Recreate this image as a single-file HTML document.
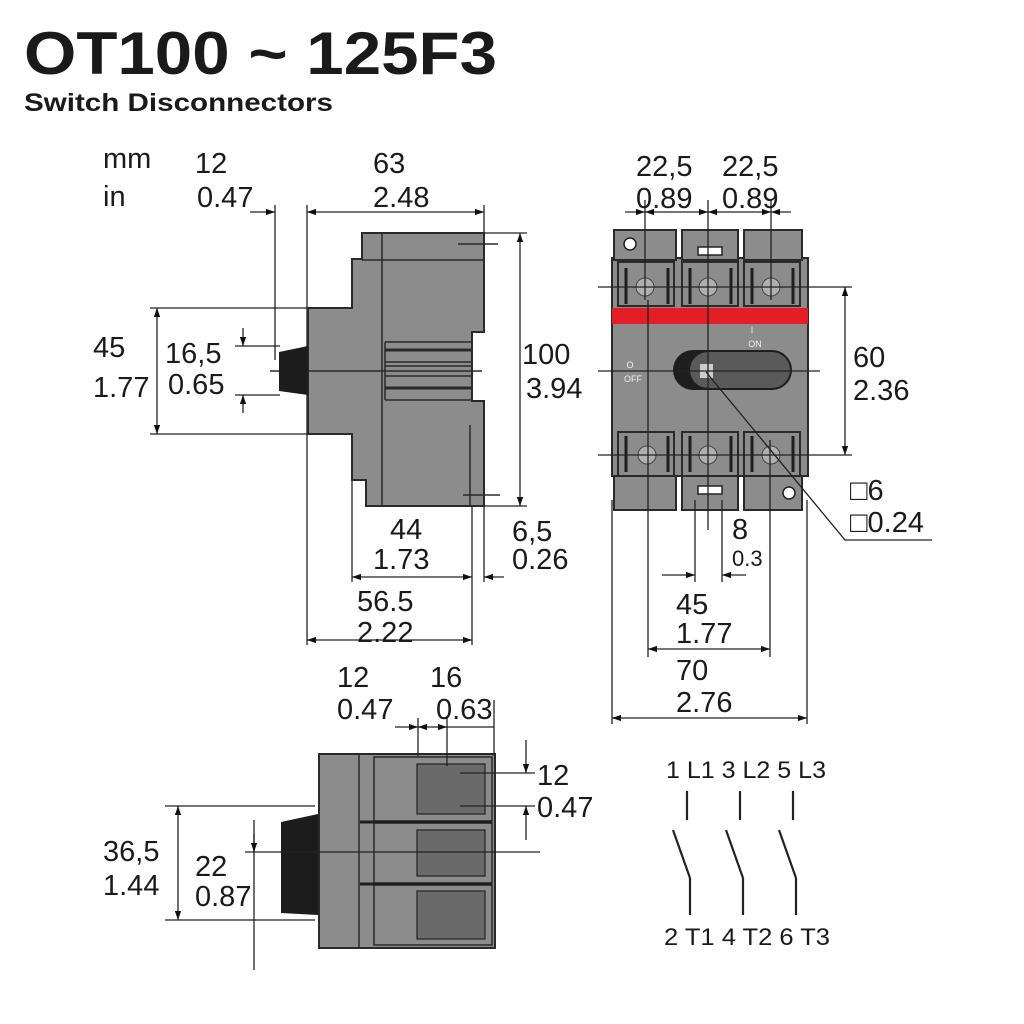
<!DOCTYPE html>
<html><head><meta charset="utf-8"><style>
html,body{margin:0;padding:0;background:#fff;}
svg{display:block;}
text{font-family:"Liberation Sans",sans-serif;fill:#1a1a1a;}
.d{font-size:29px;}
</style></head><body>
<svg width="1024" height="1024" viewBox="0 0 1024 1024" xmlns="http://www.w3.org/2000/svg">
<defs>
<marker id="a" viewBox="0 0 10 10" refX="10" refY="5" markerWidth="18" markerHeight="9" orient="auto-start-reverse" markerUnits="userSpaceOnUse"><path d="M0,1.5 L10,5 L0,8.5 z" fill="#111"/></marker>
</defs>
<text x="24" y="74" font-size="60" font-weight="bold" textLength="473" lengthAdjust="spacingAndGlyphs">OT100 ~ 125F3</text>
<text x="24" y="111" font-size="25" font-weight="bold" textLength="309" lengthAdjust="spacingAndGlyphs">Switch Disconnectors</text>

<g stroke="#222" stroke-width="1.3" fill="none">
<line x1="275" y1="205" x2="275" y2="360"/>
<line x1="307" y1="205" x2="307" y2="645"/>
<line x1="484" y1="205" x2="484" y2="233"/>
<line x1="250" y1="212" x2="275" y2="212" marker-end="url(#a)"/>
<line x1="307" y1="212" x2="484" y2="212" marker-start="url(#a)" marker-end="url(#a)"/>
<line x1="484" y1="233" x2="527" y2="233"/>
<line x1="484" y1="506" x2="527" y2="506"/>
<line x1="520" y1="233" x2="520" y2="506" marker-start="url(#a)" marker-end="url(#a)"/>
<line x1="150" y1="308" x2="308" y2="308"/>
<line x1="150" y1="434" x2="308" y2="434"/>
<line x1="157" y1="308" x2="157" y2="434" marker-start="url(#a)" marker-end="url(#a)"/>
<line x1="235" y1="346" x2="280" y2="346"/>
<line x1="235" y1="395" x2="280" y2="395"/>
<line x1="243" y1="328" x2="243" y2="346" marker-end="url(#a)"/>
<line x1="243" y1="413" x2="243" y2="395" marker-end="url(#a)"/>
<line x1="352" y1="480" x2="352" y2="582"/>
<line x1="472" y1="420" x2="472" y2="645"/>
<line x1="484" y1="506" x2="484" y2="582"/>
<line x1="352" y1="577" x2="472" y2="577" marker-start="url(#a)" marker-end="url(#a)"/>
<line x1="504" y1="577" x2="484" y2="577" marker-end="url(#a)"/>
<line x1="307" y1="640" x2="472" y2="640" marker-start="url(#a)" marker-end="url(#a)"/>
</g>

<path d="M362,233 H484 V332 H472 V401 H484 V506 H366 V480 H352 V434 H308 V308 H352 V259 H362 Z" fill="#8c8c8c" stroke="#2a2a2a" stroke-width="2"/>
<g stroke="#2a2a2a" stroke-width="1.5" fill="none">
<line x1="382" y1="233" x2="382" y2="506"/>
<line x1="362" y1="260" x2="484" y2="260"/>
<line x1="385" y1="342" x2="472" y2="342"/>
<line x1="385" y1="350" x2="472" y2="350" stroke-width="3"/>
<line x1="385" y1="362" x2="472" y2="362"/>
<line x1="385" y1="366" x2="472" y2="366"/>
<line x1="385" y1="376" x2="472" y2="376"/>
<line x1="385" y1="388" x2="472" y2="388" stroke-width="3"/>
<line x1="385" y1="400" x2="472" y2="400"/>
<line x1="385" y1="342" x2="385" y2="400"/>
<line x1="270" y1="371" x2="482" y2="371"/>
<line x1="458" y1="244" x2="498" y2="244"/>
<line x1="463" y1="495" x2="500" y2="495"/>
<line x1="470" y1="425" x2="470" y2="506"/>
</g>
<path d="M279,352 L308,346 V395 L279,391 Z" fill="#1c1c1c"/>

<rect x="612" y="258" width="196" height="218" fill="#8c8c8c" stroke="#2a2a2a" stroke-width="2"/>
<g fill="#8c8c8c" stroke="#2a2a2a" stroke-width="2">
<rect x="614" y="230" width="62" height="30"/><rect x="682" y="230" width="56" height="30"/><rect x="744" y="230" width="58" height="30"/>
<rect x="614" y="476" width="62" height="34"/><rect x="682" y="476" width="56" height="34"/><rect x="744" y="476" width="58" height="34"/>
<rect x="618" y="262" width="56" height="44"/><rect x="682" y="262" width="56" height="44"/><rect x="744" y="262" width="56" height="44"/>
<rect x="618" y="432" width="56" height="44"/><rect x="682" y="432" width="56" height="44"/><rect x="744" y="432" width="56" height="44"/>
</g>
<g stroke="#1e1e1e" stroke-width="3"><line x1="626" y1="268" x2="626" y2="304"/><line x1="668" y1="268" x2="668" y2="304"/><line x1="690" y1="268" x2="690" y2="304"/><line x1="731" y1="268" x2="731" y2="304"/><line x1="752" y1="268" x2="752" y2="304"/><line x1="793" y1="268" x2="793" y2="304"/>
<line x1="626" y1="436" x2="626" y2="472"/><line x1="668" y1="436" x2="668" y2="472"/><line x1="690" y1="436" x2="690" y2="472"/><line x1="731" y1="436" x2="731" y2="472"/><line x1="752" y1="436" x2="752" y2="472"/><line x1="793" y1="436" x2="793" y2="472"/></g>
<rect x="612" y="308" width="196" height="16" fill="#e31e24"/>
<g fill="#fff" stroke="#222" stroke-width="1.5">
<circle cx="630" cy="244" r="6"/><circle cx="789" cy="493" r="6"/>
<rect x="698" y="247" width="24" height="8"/><rect x="698" y="486" width="24" height="8"/>
</g>
<g fill="#b0b0b0" stroke="#444" stroke-width="1"><circle cx="645" cy="287" r="9"/><circle cx="708" cy="287" r="9"/><circle cx="771" cy="287" r="9"/><circle cx="647" cy="455" r="9"/><circle cx="708" cy="455" r="9"/><circle cx="771" cy="455" r="9"/></g>
<rect x="673" y="350" width="119" height="40" rx="20" fill="#1e1e1e"/>
<rect x="690" y="352" width="100" height="36" rx="18" fill="#5a5a5a"/>
<rect x="700" y="364" width="13" height="14" fill="#ccc"/>
<text x="752" y="333" font-size="9" style="fill:#eee" text-anchor="middle">I</text>
<text x="755" y="347" font-size="9" style="fill:#eee" text-anchor="middle">ON</text>
<text x="630" y="368" font-size="9" style="fill:#eee" text-anchor="middle">O</text>
<text x="633" y="382" font-size="9" style="fill:#eee" text-anchor="middle">OFF</text>
<g stroke="#222" stroke-width="1.3" fill="none">
<line x1="645" y1="200" x2="645" y2="300"/><line x1="708" y1="200" x2="708" y2="530"/><line x1="771" y1="200" x2="771" y2="300"/>
<line x1="648" y1="300" x2="648" y2="657"/><line x1="770" y1="440" x2="770" y2="657"/>
<line x1="612" y1="500" x2="612" y2="724"/><line x1="807" y1="500" x2="807" y2="724"/>
<line x1="695" y1="500" x2="695" y2="582"/><line x1="722" y1="500" x2="722" y2="582"/>
<line x1="625" y1="212" x2="645" y2="212" marker-end="url(#a)"/>
<line x1="645" y1="212" x2="708" y2="212" marker-start="url(#a)" marker-end="url(#a)"/>
<line x1="708" y1="212" x2="771" y2="212" marker-start="url(#a)" marker-end="url(#a)"/>
<line x1="791" y1="212" x2="771" y2="212" marker-end="url(#a)"/>
<line x1="598" y1="287" x2="852" y2="287"/><line x1="598" y1="455" x2="852" y2="455"/>
<line x1="598" y1="371" x2="820" y2="371"/>
<line x1="845" y1="287" x2="845" y2="455" marker-start="url(#a)" marker-end="url(#a)"/>
<line x1="662" y1="575" x2="695" y2="575" marker-end="url(#a)"/>
<line x1="746" y1="575" x2="722" y2="575" marker-end="url(#a)"/>
<line x1="648" y1="649" x2="770" y2="649" marker-start="url(#a)" marker-end="url(#a)"/>
<line x1="612" y1="718" x2="807" y2="718" marker-start="url(#a)" marker-end="url(#a)"/>
<polyline points="706,372 845,540 932,540"/>
</g>

<rect x="319" y="754" width="176" height="194" fill="#8c8c8c" stroke="#2a2a2a" stroke-width="2"/>
<line x1="359" y1="754" x2="359" y2="948" stroke="#2a2a2a" stroke-width="1.5"/>
<g fill="#8c8c8c" stroke="#2a2a2a" stroke-width="1.5">
<rect x="374" y="757" width="118" height="64"/><rect x="374" y="823" width="118" height="60"/><rect x="374" y="885" width="118" height="60"/>
</g>
<g stroke="#1e1e1e" stroke-width="3"><line x1="360" y1="822" x2="492" y2="822"/><line x1="360" y1="884" x2="492" y2="884"/></g>
<g fill="#6a6a6a" stroke="#2a2a2a" stroke-width="1.3">
<rect x="417" y="764" width="68" height="50"/><rect x="417" y="830" width="68" height="46"/><rect x="417" y="891" width="68" height="48"/>
</g>
<path d="M281,822 L318,814 V915 L281,913 Z" fill="#1c1c1c"/>
<g stroke="#222" stroke-width="1.3" fill="none">
<line x1="418" y1="718" x2="418" y2="756"/><line x1="447" y1="718" x2="447" y2="766"/><line x1="494" y1="700" x2="494" y2="756"/>
<line x1="395" y1="727" x2="418" y2="727" marker-end="url(#a)"/>
<line x1="418" y1="727" x2="447" y2="727" marker-start="url(#a)" marker-end="url(#a)"/>
<line x1="447" y1="727" x2="494" y2="727"/>
<line x1="460" y1="773" x2="535" y2="773"/><line x1="460" y1="806" x2="535" y2="806"/>
<line x1="526" y1="740" x2="526" y2="773" marker-end="url(#a)"/>
<line x1="526" y1="840" x2="526" y2="806" marker-end="url(#a)"/>
<line x1="165" y1="806" x2="315" y2="806"/><line x1="165" y1="920" x2="315" y2="920"/>
<line x1="178" y1="806" x2="178" y2="920" marker-start="url(#a)" marker-end="url(#a)"/>
<line x1="245" y1="852" x2="540" y2="852"/>
<line x1="254" y1="820" x2="254" y2="970"/>
<line x1="254" y1="834" x2="254" y2="852" marker-end="url(#a)"/>
</g>

<g stroke="#222" stroke-width="2.2" fill="none">
<line x1="687" y1="791" x2="687" y2="820"/><line x1="740" y1="791" x2="740" y2="820"/><line x1="793" y1="791" x2="793" y2="820"/>
<line x1="673" y1="830" x2="690" y2="878"/><line x1="726" y1="830" x2="743" y2="878"/><line x1="779" y1="830" x2="796" y2="878"/>
<line x1="690" y1="878" x2="690" y2="915"/><line x1="743" y1="878" x2="743" y2="915"/><line x1="796" y1="878" x2="796" y2="915"/>
</g>

<g>
<text x="103" y="168" class="d">mm</text><text x="103" y="206" class="d">in</text>
<text x="195" y="173" class="d">12</text><text x="197" y="207" class="d">0.47</text>
<text x="373" y="173" class="d">63</text><text x="373" y="207" class="d">2.48</text>
<text x="93" y="357" class="d">45</text><text x="93" y="397" class="d">1.77</text>
<text x="165" y="363" class="d">16,5</text><text x="168" y="394" class="d">0.65</text>
<text x="522" y="364" class="d">100</text><text x="526" y="398" class="d">3.94</text>
<text x="390" y="539" class="d">44</text><text x="373" y="569" class="d">1.73</text>
<text x="512" y="541" class="d">6,5</text><text x="512" y="569" class="d">0.26</text>
<text x="357" y="611" class="d">56.5</text><text x="357" y="642" class="d">2.22</text>
<text x="636" y="176" class="d">22,5</text><text x="636" y="208" class="d">0.89</text>
<text x="722" y="176" class="d">22,5</text><text x="722" y="208" class="d">0.89</text>
<text x="853" y="367" class="d">60</text><text x="853" y="400" class="d">2.36</text>
<text x="850" y="500" class="d">□6</text><text x="850" y="532" class="d">□0.24</text>
<text x="732" y="539" class="d">8</text><text x="732" y="566" font-size="22">0.3</text>
<text x="676" y="614" class="d">45</text><text x="676" y="643" class="d">1.77</text>
<text x="676" y="680" class="d">70</text><text x="676" y="712" class="d">2.76</text>
<text x="337" y="687" class="d">12</text><text x="337" y="719" class="d">0.47</text>
<text x="430" y="687" class="d">16</text><text x="436" y="719" class="d">0.63</text>
<text x="537" y="785" class="d">12</text><text x="537" y="817" class="d">0.47</text>
<text x="103" y="861" class="d">36,5</text><text x="103" y="895" class="d">1.44</text>
<text x="195" y="876" class="d">22</text><text x="195" y="906" class="d">0.87</text>
<text x="666" y="778" font-size="24" textLength="160" lengthAdjust="spacingAndGlyphs">1 L1 3 L2 5 L3</text>
<text x="664" y="945" font-size="24" textLength="166" lengthAdjust="spacingAndGlyphs">2 T1 4 T2 6 T3</text>
</g>
</svg>
</body></html>
